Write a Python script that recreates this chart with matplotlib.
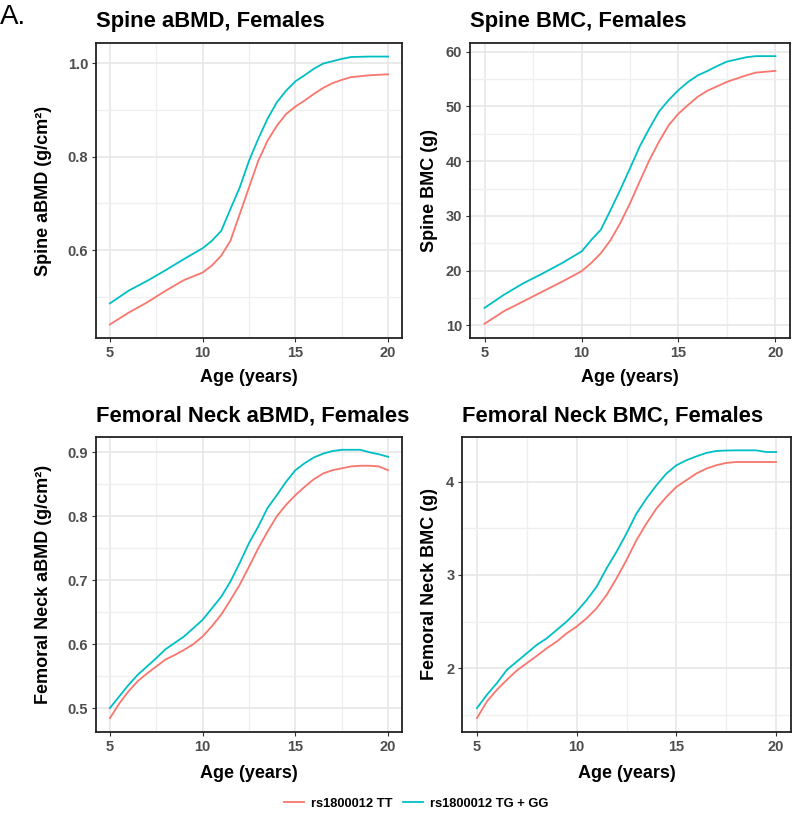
import matplotlib
matplotlib.use("Agg")
import matplotlib.pyplot as plt
from matplotlib.lines import Line2D
import numpy as np

plt.rcParams['font.family'] = ['Liberation Sans', 'DejaVu Sans']

# ---------------- data ----------------
age_a = [5, 6, 7, 8, 9, 10, 10.5, 11, 11.5, 12, 12.5, 13, 13.5, 14, 14.5, 15, 15.5, 16, 16.5, 17, 17.5, 18, 19, 20]
spine_abmd_gg = [0.486, 0.513, 0.534, 0.557, 0.581, 0.604, 0.620, 0.641, 0.688, 0.734, 0.791, 0.838, 0.881,
                 0.916, 0.941, 0.961, 0.974, 0.988, 0.999, 1.004, 1.009, 1.013, 1.014, 1.014]
spine_abmd_tt = [0.441, 0.466, 0.488, 0.513, 0.536, 0.552, 0.567, 0.588, 0.620, 0.677, 0.734, 0.791, 0.834,
                 0.866, 0.891, 0.907, 0.920, 0.934, 0.947, 0.957, 0.964, 0.970, 0.974, 0.976]

age_b = [5, 6, 7, 8, 9, 10, 10.5, 11, 11.5, 12, 12.5, 13, 13.5, 14, 14.5, 15, 15.5, 16, 16.5, 17, 17.5, 18, 18.5, 19, 20]
spine_bmc_gg = [13.2, 15.6, 17.7, 19.5, 21.4, 23.5, 25.6, 27.5, 31.1, 34.8, 38.7, 42.7, 46.0, 49.1, 51.2,
                53.0, 54.5, 55.7, 56.5, 57.4, 58.2, 58.6, 59.0, 59.2, 59.2]
spine_bmc_tt = [10.3, 12.6, 14.4, 16.2, 18.0, 19.9, 21.4, 23.2, 25.6, 28.7, 32.3, 36.3, 40.2, 43.6, 46.6,
                48.7, 50.3, 51.8, 52.9, 53.7, 54.5, 55.1, 55.7, 56.2, 56.5]

age_c = [5, 5.5, 6, 6.5, 7, 7.5, 8, 8.5, 9, 9.5, 10, 10.5, 11, 11.5, 12, 12.5, 13, 13.5, 14, 14.5, 15, 15.5,
         16, 16.5, 17, 17.5, 18, 18.5, 19, 19.5, 20]
fn_abmd_gg = [0.500, 0.518, 0.536, 0.552, 0.565, 0.578, 0.592, 0.602, 0.612, 0.625, 0.638, 0.656, 0.674,
              0.698, 0.727, 0.758, 0.784, 0.813, 0.833, 0.854, 0.872, 0.883, 0.892, 0.898, 0.902, 0.904,
              0.904, 0.904, 0.900, 0.897, 0.893]
fn_abmd_tt = [0.484, 0.507, 0.526, 0.542, 0.554, 0.565, 0.576, 0.583, 0.591, 0.600, 0.612, 0.628, 0.646,
              0.669, 0.693, 0.721, 0.750, 0.776, 0.800, 0.818, 0.833, 0.846, 0.858, 0.867, 0.872, 0.875,
              0.878, 0.879, 0.879, 0.878, 0.872]

age_d = [5, 5.5, 6, 6.5, 7, 7.5, 8, 8.5, 9, 9.5, 10, 10.5, 11, 11.5, 12, 12.5, 13, 13.5, 14, 14.5, 15, 15.5,
         16, 16.5, 17, 17.5, 18, 19, 19.5, 20]
fn_bmc_gg = [1.572, 1.715, 1.840, 1.982, 2.071, 2.160, 2.250, 2.320, 2.410, 2.500, 2.606, 2.730, 2.873,
             3.070, 3.248, 3.444, 3.658, 3.818, 3.960, 4.086, 4.175, 4.228, 4.270, 4.307, 4.328, 4.333,
             4.335, 4.335, 4.317, 4.317]
fn_bmc_tt = [1.465, 1.644, 1.768, 1.875, 1.975, 2.054, 2.132, 2.214, 2.285, 2.374, 2.446, 2.535, 2.642,
             2.784, 2.963, 3.159, 3.373, 3.551, 3.711, 3.836, 3.943, 4.014, 4.086, 4.139, 4.175, 4.200,
             4.210, 4.210, 4.210, 4.210]

titles = ["Spine aBMD, Females", "Spine BMC, Females",
          "Femoral Neck aBMD, Females", "Femoral Neck BMC, Females"]
ylabels = ["Spine aBMD (g/cm²)", "Spine BMC (g)", "Femoral Neck aBMD (g/cm²)", "Femoral Neck BMC (g)"]
legend_labels = ["rs1800012 TT", "rs1800012 TG + GG"]
x_ticks = [5, 10, 15, 20]
y_major = [[0.6, 0.8, 1.0], [10, 20, 30, 40, 50, 60], [0.5, 0.6, 0.7, 0.8, 0.9], [2, 3, 4]]
y_minor = [[0.5, 0.7, 0.9], [15, 25, 35, 45, 55], [0.55, 0.65, 0.75, 0.85], [1.5, 2.5, 3.5]]
y_fmt = ["{:.1f}", "{:.0f}", "{:.1f}", "{:.0f}"]

RED = "#F8766D"
CYAN = "#00BFC4"

fig = plt.figure(figsize=(8, 8.14), dpi=100)

rects = [
    (96, 43, 402, 338),
    (470, 43, 790, 338),
    (96, 437, 402, 732),
    (462, 437, 791, 732),
]
ylims = [(0.412, 1.043), (7.7, 61.6), (0.4625, 0.924), (1.316, 4.478)]
ylab_x = [52, 438, 52, 438]
xlab_y = [369, 369, 765, 765]

series = [
    (age_a, spine_abmd_tt, spine_abmd_gg),
    (age_b, spine_bmc_tt, spine_bmc_gg),
    (age_c, fn_abmd_tt, fn_abmd_gg),
    (age_d, fn_bmc_tt, fn_bmc_gg),
]

W, H = 800, 814
for i, (l, t, r, b) in enumerate(rects):
    ax = fig.add_axes([l / W, 1 - b / H, (r - l) / W, (b - t) / H])
    x, tt, gg = series[i]
    ax.plot(x, tt, color=RED, lw=1.3, zorder=3)
    ax.plot(x, gg, color=CYAN, lw=1.3, zorder=3)
    ax.set_xlim(4.25, 20.75)
    ax.set_ylim(*ylims[i])
    ax.set_xticks(x_ticks)
    ax.set_xticks([7.5, 12.5, 17.5], minor=True)
    ax.set_yticks(y_major[i])
    ax.set_yticks(y_minor[i], minor=True)
    ax.set_yticklabels([y_fmt[i].format(v) for v in y_major[i]])
    ax.grid(which='major', color='#E6E6E6', lw=1.1, zorder=0)
    ax.grid(which='minor', color='#EFEFEF', lw=0.9, zorder=0)
    ax.tick_params(which='major', length=3, width=0.8, color='#333333', labelsize=10.5,
                   labelcolor='#4D4D4D', pad=2.5)
    ax.tick_params(which='minor', length=0)
    for lab in ax.get_xticklabels() + ax.get_yticklabels():
        lab.set_fontweight('bold')
    for s in ax.spines.values():
        s.set_linewidth(1.3)
        s.set_color('#222222')
    ax.set_xlabel("Age (years)", fontsize=13, fontweight='bold')
    ax.xaxis.set_label_coords(0.5, -(xlab_y[i] - b) / (b - t))
    ax.set_ylabel(ylabels[i], fontsize=13, fontweight='bold')
    ax.yaxis.set_label_coords((ylab_x[i] - l) / (r - l), 0.5)
    fig.text(l / W, 1 - (t - 21) / H, titles[i], fontsize=15.8, fontweight='bold',
             ha='left', va='center')

fig.text(0 / W, 1 - 17 / H, "A.", fontsize=20, ha='left', va='center')

handles = [Line2D([0], [0], color=RED, lw=1.3), Line2D([0], [0], color=CYAN, lw=1.3)]
fig.legend(handles, legend_labels, loc='center', bbox_to_anchor=(416 / W, 1 - 804 / H), ncol=2,
           frameon=False, prop={'weight': 'bold', 'size': 9.3}, handlelength=1.6,
           columnspacing=0.8, handletextpad=0.5)

fig.savefig("out.png", dpi=100)
